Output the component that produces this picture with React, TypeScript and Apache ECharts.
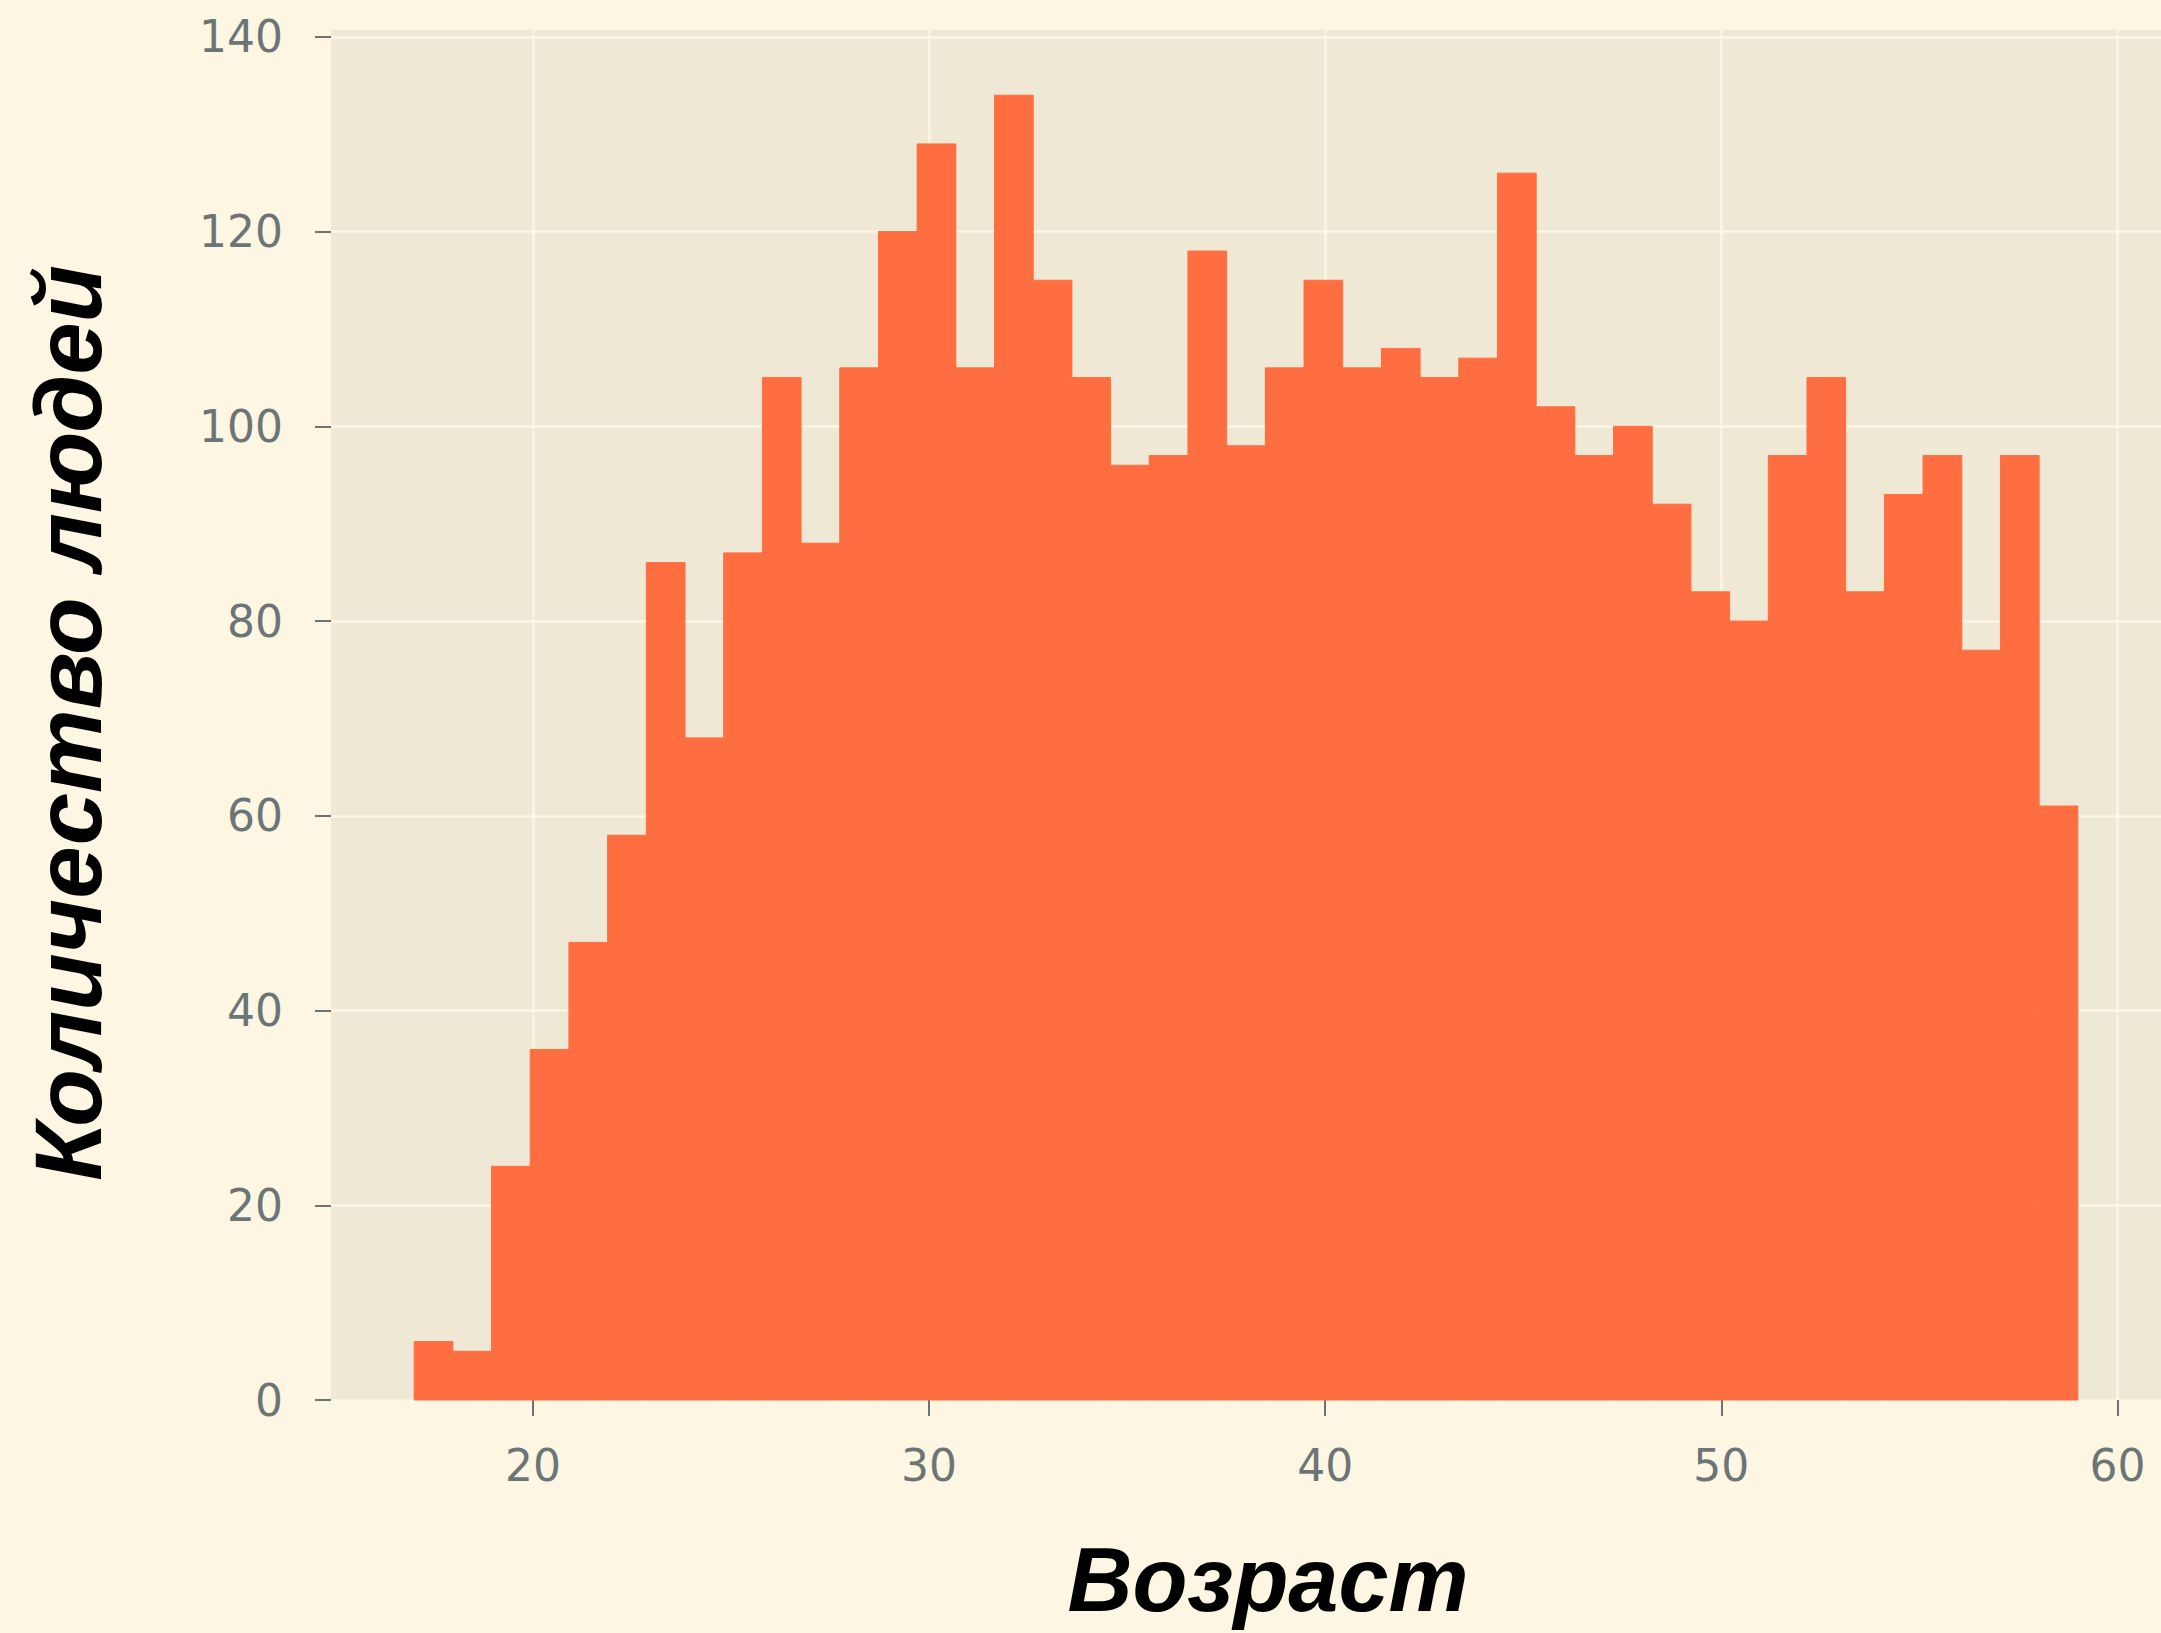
import React, { useEffect, useRef } from "react";
import * as echarts from "echarts";

// Histogram of ages: 43 bins from 17 to 59
const binStart = 17;
const binEnd = 59;
const counts = [
  6, 5, 24, 36, 47, 58, 86, 68, 87, 105,
  88, 106, 120, 129, 106, 134, 115, 105, 96, 97,
  118, 98, 106, 115, 106, 108, 105, 107, 126, 102,
  97, 100, 92, 83, 80, 97, 105, 83, 93, 97,
  77, 97, 61,
];
const xTicks = [20, 30, 40, 50, 60];
const yTicks = [0, 20, 40, 60, 80, 100, 120, 140];
const xTitle = "Возраст";
const yTitle = "Количество людей";

const BAR = "#FF6E40";
const TEXT = "#6b7576";
const GRIDLINE = "#FDF6E3";

export default function App() {
  const ref = useRef<HTMLDivElement>(null);
  useEffect(() => {
    if (!ref.current) return;
    const chart = echarts.init(ref.current, undefined, { renderer: "svg" });
    const n = counts.length;
    const w = (binEnd - binStart) / n;
    const data = counts.map((c, i) => [binStart + i * w, binStart + (i + 1) * w, c]);
    const maxCount = Math.max(...counts);
    const span = binEnd - binStart;
    chart.setOption({
      animation: false,
      backgroundColor: "#FDF6E3",
      grid: {
        left: 331,
        right: -6,
        top: 30,
        bottom: 233,
        show: true,
        backgroundColor: "#EEE8D5",
        borderWidth: 0,
      },
      xAxis: {
        type: "value",
        min: binStart - span * 0.05,
        max: binEnd + span * 0.05,
        axisLine: { show: false },
        axisTick: {
          show: true,
          length: 16,
          customValues: xTicks,
          lineStyle: { color: TEXT, width: 2 },
        },
        axisLabel: {
          customValues: xTicks,
          margin: 43,
          color: TEXT,
          fontSize: 44,
          fontFamily: "DejaVu Sans",
          formatter: (v: number) => (xTicks.includes(v) ? String(v) : ""),
        },
        splitLine: { show: true, lineStyle: { color: GRIDLINE, width: 2.5 } },
      },
      yAxis: {
        type: "value",
        min: 0,
        max: maxCount * 1.05,
        interval: 20,
        axisLine: { show: false },
        axisTick: {
          show: true,
          length: 16,
          customValues: yTicks,
          lineStyle: { color: TEXT, width: 2 },
        },
        axisLabel: {
          customValues: yTicks,
          margin: 48,
          color: TEXT,
          fontSize: 44,
          fontFamily: "DejaVu Sans",
          formatter: (v: number) => (yTicks.includes(v) ? String(v) : ""),
        },
        splitLine: { show: true, lineStyle: { color: GRIDLINE, width: 2.5 } },
      },
      series: [
        {
          type: "custom",
          encode: { x: [0, 1], y: 2 },
          data,
          renderItem: (params: any, api: any) => {
            const p0 = api.coord([api.value(0), api.value(2)]);
            const p1 = api.coord([api.value(1), 0]);
            return {
              type: "rect",
              shape: { x: p0[0], y: p0[1], width: p1[0] - p0[0], height: p1[1] - p0[1] },
              style: { fill: BAR, stroke: BAR, lineWidth: 1 },
            };
          },
        },
      ],
      graphic: [
        {
          type: "text",
          x: 1268,
          y: 1580,
          style: {
            text: xTitle,
            fontSize: 90,
            fontWeight: "bold",
            fontStyle: "italic",
            fontFamily: "Liberation Sans",
            fill: "#000",
            align: "center",
            verticalAlign: "middle",
          },
        },
        {
          type: "text",
          x: 68,
          y: 723,
          rotation: Math.PI / 2,
          style: {
            text: yTitle,
            fontSize: 94,
            fontWeight: "bold",
            fontStyle: "italic",
            fontFamily: "Liberation Sans",
            fill: "#000",
            align: "center",
            verticalAlign: "middle",
          },
        },
      ],
    });
    return () => chart.dispose();
  }, []);
  return (
    <div
      ref={ref}
      style={{ position: "fixed", left: 0, top: 0, width: 2161, height: 1633 }}
    />
  );
}
